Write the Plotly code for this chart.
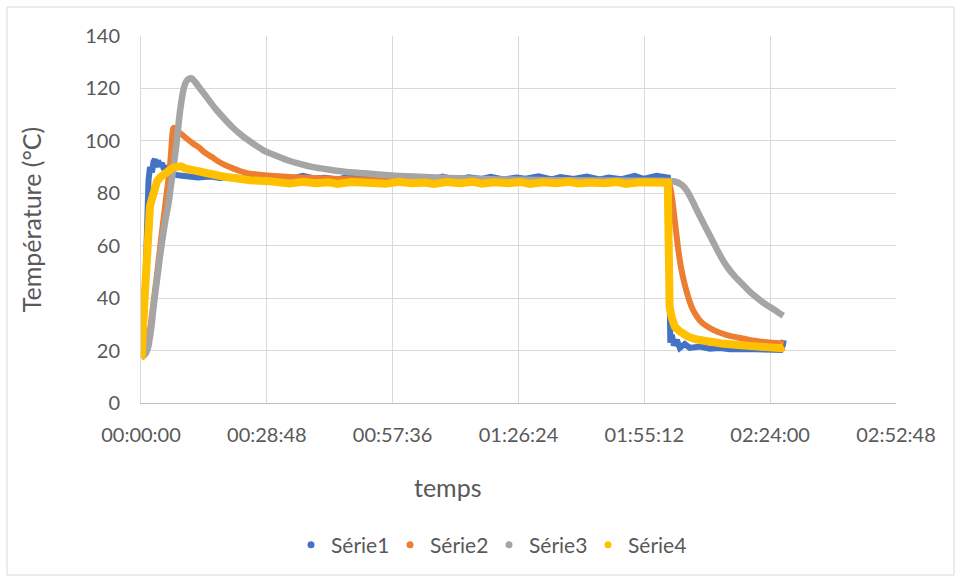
import plotly.graph_objects as go

# time in minutes, temperature in °C
t1 = [0, 0.46, 0.80, 1.03, 1.26, 1.49, 1.72, 2.06, 2.52, 2.86, 3.20, 3.55, 3.89, 4.35, 4.80, 5.26, 5.72, 6.18, 6.64, 7.32, 8.01, 8.92,
      11, 13, 16, 18, 21, 24, 26, 29, 31, 34, 37, 40, 42, 45, 48, 50, 53, 56, 58, 61, 64, 67, 69, 72, 75, 78, 80, 83, 86, 88,
      91, 94, 96, 99, 102, 105, 107, 110, 113, 115, 118, 120.58,
      120.65, 120.72, 120.76, 120.81, 120.88, 120.95, 121.15, 121.49, 121.95, 122.64, 123.32, 124.47, 125.61, 127.90, 130.19,
      132.48, 134.77, 138.20, 141.64, 145.06, 146.43, 146.89, 147.12]
y1 = [17.5, 22, 35, 50, 65, 78, 85, 90, 88, 92, 93, 90, 92.5, 90.5, 91.5, 89, 90.5, 88.5, 88, 87.5, 87, 86.8,
      86.5, 86.0, 86.4, 85.8, 86.2, 85.6, 86.6, 85.5, 86.1, 85.4, 86.7, 85.6, 85.9, 85.3, 86.5, 85.5, 86.0, 85.4, 86.6, 85.3,
      85.9, 85.5, 86.4, 85.2, 86.1, 85.5, 86.3, 85.3, 86.0, 85.6, 86.5, 85.3, 86.2, 85.5, 86.4, 85.3, 86.0, 85.4, 86.6, 85.5,
      86.7, 86,
      76, 65, 55, 45, 36, 28, 23, 26, 22, 24, 21, 22.5, 21, 21.5, 20.7, 21, 20.5, 20.6, 20.2, 20.3, 20.2, 22, 24]

t2 = [0, 1.14, 1.83, 2.75, 3.66, 4.35, 5.03, 5.88, 6.41, 6.86, 7.32, 7.55, 8.01, 9.31, 10.52, 11.90, 13.27, 14.64, 16.24,
      17.62, 19.22, 21.05, 22.65, 24.25, 26.54, 28.83, 34.09, 40.96, 50.11, 59.26, 70.70, 82.14, 93.58, 105.02, 116.46,
      120.58, 120.81, 121.27, 121.72, 122.18, 122.64, 123.09, 123.71, 124.47, 125.22, 125.95, 126.75, 127.90, 129.04,
      130.87, 132.86, 134.99, 137.44, 139.57, 142.02, 144.37, 146.59, 147.12]
y2 = [17.5, 19.5, 25, 37, 49, 59, 68.5, 80, 87, 95, 104.5, 105, 104, 102.5, 100.8, 99, 97.5, 95.5, 93.8,
      92.2, 90.8, 89.5, 88.5, 87.7, 87.2, 86.8, 86.2, 85.7, 85.3, 85.0, 84.9, 84.8, 84.8, 84.7, 84.7,
      84.6, 84.5, 81, 76, 69.5, 63, 57, 50.7, 45, 40.6, 37, 34.2, 31.5, 29.8,
      28, 26.6, 25.5, 24.7, 24, 23.4, 23, 22.8, 22.6]

t3 = [0, 0.92, 1.60, 2.29, 2.97, 3.66, 4.35, 5.03, 5.72, 6.29, 6.86, 7.44, 8.12, 8.69, 9.15, 9.72, 10.30, 10.98, 11.67,
      12.36, 13.50, 15.10, 16.93, 18.76, 21.05, 23.34, 25.63, 27.91, 30.66, 33.41, 36.38, 39.35, 43.24, 47.13, 51.25,
      57.43, 63.84, 70.70, 82.14, 93.58, 105.02, 114.17, 118.75, 120.58, 122.18, 123.78, 124.93, 126.07, 127.21, 128.36,
      129.50, 130.65, 131.79, 132.93, 134.31, 135.91, 137.51, 138.88, 140.48, 142.08, 143.46, 145.06, 145.97, 147.00]
y3 = [17.5, 18.5, 21, 28, 38, 47, 56, 64, 71, 76, 83, 90, 99, 108, 114, 119.5, 122.5, 123.7, 123.8,
      122.5, 120, 116.5, 112.5, 109, 105, 101.7, 99, 96.5, 94.5, 92.7, 91.2, 90, 89, 88.1, 87.6,
      86.8, 86.3, 85.8, 85.3, 85, 84.9, 84.8, 84.8, 84.7, 84.5, 83.2, 81, 77.5, 73.6, 69.8,
      66.1, 62.4, 58.7, 55.2, 51.6, 48.3, 45.6, 43.2, 40.8, 38.7, 37.1, 35.5, 34.4, 33.3]

t4 = [0, 0.16, 0.53, 0.92, 1.30, 1.67, 2.06, 2.45, 2.86, 3.20, 3.66, 4.35, 5.26, 6.18, 7.09, 8.01, 9.15, 10.07, 11.21,
      12.36, 13.50, 14.64, 16.18, 17.62, 19.22, 21.51, 24.94, 29.52,
      32, 34, 37, 40, 43, 45, 48, 51, 54, 56, 59, 62, 65, 67, 70, 73, 76, 78, 81, 84, 87, 89, 92, 95, 98, 100, 103, 106,
      109, 111, 114, 117, 119, 120.58,
      120.65, 120.72, 120.76, 120.81, 120.88, 120.99, 121.49, 122.18, 123.32, 125.22, 127.21, 129.80, 132.93, 136.67,
      140.48, 143.92, 146.59, 147.12]
y4 = [17.5, 17.7, 31.7, 46.9, 59.6, 69.8, 75, 77.5, 80, 83, 84.5, 86, 87.5, 88.9, 89.5, 90, 90.3, 89.5, 89,
      88.9, 88.4, 87.8, 87.6, 86.8, 86.3, 85.7, 85, 84.6,
      84.1, 83.7, 84.4, 83.8, 84.2, 83.6, 84.3, 83.9, 84.2, 83.6, 84.4, 83.8, 84.1, 83.6, 84.3, 83.8, 84.4, 83.7, 84.2,
      83.8, 84.3, 83.6, 84.2, 83.8, 84.4, 83.7, 84.1, 83.8, 84.3, 83.6, 84.2, 83.8, 84.3, 84,
      73, 66, 58, 50, 42, 36.7, 32.5, 29.1, 27.3, 25.3, 24.2, 23.4, 22.7, 22.1,
      21.6, 21.2, 20.9, 21.5]

names = ["Série1", "Série2", "Série3", "Série4"]
colors = ["#4472C4", "#ED7D31", "#A5A5A5", "#FFC000"]
widths = [6, 6, 6.5, 8]
shapes_ = ["linear", "spline", "spline", "linear"]

x_tickvals = [0, 28.8, 57.6, 86.4, 115.2, 144.0, 172.8]
x_ticktext = ["00:00:00", "00:28:48", "00:57:36", "01:26:24", "01:55:12", "02:24:00", "02:52:48"]

FONT = "Lato"
GREY_TXT = "#595959"

fig = go.Figure()
for t, y, n, c, w, s in zip([t1, t2, t3, t4], [y1, y2, y3, y4], names, colors, widths, shapes_):
    fig.add_trace(go.Scatter(x=t, y=y, mode="lines",
                             line=dict(color=c, width=w, shape=s, smoothing=0.6),
                             showlegend=False, name=n, hoverinfo="skip"))
for n, c in zip(names, colors):
    fig.add_trace(go.Scatter(x=[None], y=[None], mode="markers", name=n,
                             marker=dict(color=c, size=7)))

L, R, T, B = 141, 896, 36, 403
W, H = 960, 581
pw, ph = R - L, B - T

fig.update_layout(
    width=W, height=H,
    margin=dict(l=L, r=W - R, t=T, b=H - B),
    paper_bgcolor="white", plot_bgcolor="white",
    font=dict(family=FONT, color=GREY_TXT, size=20),
    xaxis=dict(range=[0, 172.8], tickvals=x_tickvals, ticktext=x_ticktext,
               showgrid=True, gridcolor="#d9d9d9", gridwidth=1, zeroline=False,
               showline=True, linecolor="#bfbfbf", linewidth=1, mirror=False,
               ticks="", ticklabelstandoff=14, tickfont=dict(size=20, color=GREY_TXT)),
    yaxis=dict(range=[0, 140], dtick=20, tick0=0,
               showgrid=True, gridcolor="#d9d9d9", gridwidth=1, zeroline=False,
               showline=True, linecolor="#d9d9d9", linewidth=1,
               ticks="", ticklabelstandoff=16, tickfont=dict(size=20, color=GREY_TXT),
               title=dict(text="Température (°C)", font=dict(size=25, color=GREY_TXT), standoff=36)),
    legend=dict(orientation="h", x=(489 - L) / pw, xanchor="center",
                y=(B - 545) / ph, yanchor="middle",
                font=dict(size=21, color=GREY_TXT), bgcolor="rgba(0,0,0,0)",
                itemwidth=30, entrywidth=54, entrywidthmode="pixels"),
    annotations=[dict(text="temps", xref="paper", yref="paper",
                      x=(448 - L) / pw, y=(B - 487) / ph, xanchor="center", yanchor="middle",
                      showarrow=False, font=dict(size=25, color=GREY_TXT))],
    shapes=[dict(type="rect", xref="paper", yref="paper",
                 x0=(7 - L) / pw, x1=(954 - L) / pw, y0=(B - 575) / ph, y1=(B - 7) / ph,
                 line=dict(color="#d9d9d9", width=1), fillcolor="rgba(0,0,0,0)", layer="below")],
)

fig.write_html("out.html", config={"displayModeBar": False},
               post_script="document.body.style.margin='0px';")
